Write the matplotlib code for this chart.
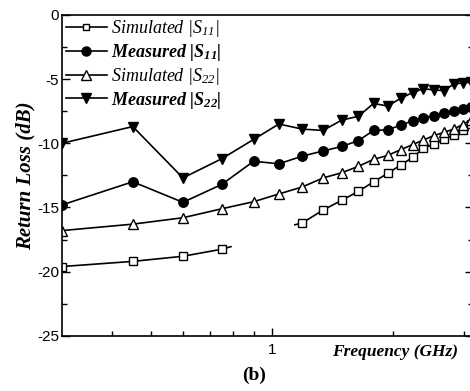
import matplotlib
matplotlib.use("Agg")
import matplotlib.pyplot as plt
import numpy as np
from matplotlib.ticker import FixedLocator, NullFormatter, FixedFormatter

plt.rcParams['mathtext.fontset'] = 'custom'
plt.rcParams['mathtext.rm'] = 'Liberation Serif:italic'
plt.rcParams['mathtext.it'] = 'Liberation Serif:italic'
plt.rcParams['mathtext.bf'] = 'Liberation Serif:bold:italic'

freq = [0.30, 0.45, 0.60, 0.75, 0.90, 1.04, 1.19, 1.34, 1.49, 1.64,
        1.79, 1.94, 2.09, 2.24, 2.38, 2.53, 2.68, 2.83, 2.98, 3.12]
meas_s22 = [-10.0, -8.7, -12.7, -11.2, -9.7, -8.5, -8.9, -9.0, -8.2, -7.9,
            -6.9, -7.1, -6.5, -6.05, -5.75, -5.85, -5.9, -5.4, -5.3, -5.25]
meas_s11 = [-14.8, -13.0, -14.6, -13.2, -11.4, -11.6, -11.0, -10.6, -10.25, -9.8,
            -9.0, -8.95, -8.6, -8.25, -8.0, -7.85, -7.65, -7.5, -7.35, -7.2]
sim_s22 = [-16.8, -16.3, -15.8, -15.1, -14.55, -13.95, -13.4, -12.7, -12.3, -11.8,
           -11.25, -10.95, -10.5, -10.1, -9.75, -9.4, -9.15, -8.9, -8.55, -8.2]
# simulated S11 is drawn in two pieces; stub ends are drawn without markers
sim_s11_freq_a = [0.30, 0.45, 0.60, 0.75, 0.79]
sim_s11_a = [-19.6, -19.2, -18.8, -18.25, -18.05]
sim_s11_freq_b = [1.14, 1.19, 1.34, 1.49, 1.64, 1.79, 1.94, 2.09, 2.24, 2.38,
                  2.53, 2.68, 2.83, 2.98, 3.12]
sim_s11_b = [-16.35, -16.2, -15.2, -14.45, -13.75, -13.0, -12.35, -11.7, -11.1, -10.4,
             -10.05, -9.7, -9.35, -8.95, -8.5]

fig = plt.figure(figsize=(4.70, 3.91), dpi=100)
ax = fig.add_axes([0.132, 0.141, 0.875, 0.821])

lw = 1.2
ax.plot(sim_s11_freq_a, sim_s11_a, '-', color='black', lw=lw, marker='s', ms=5.5,
        mfc='white', mec='black', mew=1.0, markevery=[0, 1, 2, 3])
ax.plot(sim_s11_freq_b, sim_s11_b, '-', color='black', lw=lw, marker='s', ms=5.5,
        mfc='white', mec='black', mew=1.0, markevery=list(range(1, len(sim_s11_b))))
ax.plot(freq, meas_s11, '-', color='black', lw=lw, marker='o', ms=6.8,
        mfc='black', mec='black')
ax.plot(freq, sim_s22, '-', color='black', lw=lw, marker='^', ms=7.2,
        mfc='white', mec='black', mew=1.0)
ax.plot(freq, meas_s22, '-', color='black', lw=lw, marker='v', ms=7.8,
        mfc='black', mec='black')

# legend handles
h1, = ax.plot([], [], '-', color='black', lw=lw, marker='s', ms=5, mfc='white', mec='black')
h2, = ax.plot([], [], '-', color='black', lw=lw, marker='o', ms=6.5, mfc='black', mec='black')
h3, = ax.plot([], [], '-', color='black', lw=lw, marker='^', ms=6.5, mfc='white', mec='black')
h4, = ax.plot([], [], '-', color='black', lw=lw, marker='v', ms=7, mfc='black', mec='black')
labels = [r'Simulated $|S_{11}|$', r'Measured $\mathbf{|S_{11}|}$',
          r'Simulated $|S_{22}|$', r'Measured $\mathbf{|S_{22}|}$']
leg = ax.legend([h1, h2, h3, h4], labels, loc='upper left', frameon=False,
                prop={'family': 'Liberation Serif', 'style': 'italic', 'size': 13},
                handlelength=2.3, handletextpad=0.2, labelspacing=0.15,
                borderaxespad=0.1, borderpad=0.1)
for i in (1, 3):
    leg.get_texts()[i].set_fontweight('bold')

ax.set_xscale('log')
ax.set_xlim(0.30, 3.17)
ax.set_ylim(-25, 0)

ax.xaxis.set_major_locator(FixedLocator([1]))
ax.xaxis.set_major_formatter(FixedFormatter(['1']))
ax.xaxis.set_minor_locator(FixedLocator([0.4, 0.5, 0.6, 0.7, 0.8, 0.9, 2, 3]))
ax.xaxis.set_minor_formatter(NullFormatter())
ax.set_yticks([0, -5, -10, -15, -20, -25])
ax.set_yticklabels(['0', '-5', '-10', '-15', '-20', '-25'])
ax.yaxis.set_minor_locator(FixedLocator(np.arange(-22.5, 0, 5)))

ax.tick_params(axis='both', which='both', direction='in', top=False, right=True,
               labelsize=11, width=1.0)
ax.tick_params(axis='both', which='major', length=6)
ax.tick_params(axis='both', which='minor', length=3.5)
for lab in ax.get_xticklabels() + ax.get_yticklabels():
    lab.set_family('Liberation Sans')
ax.tick_params(axis='y', pad=2)
ax.tick_params(axis='x', pad=5)
for sp in ax.spines.values():
    sp.set_linewidth(1.2)

ax.set_ylabel('Return Loss (dB)', family='Liberation Serif', style='italic',
              weight='bold', size=15, labelpad=1)
fig.text(0.84, 0.1, 'Frequency (GHz)', family='Liberation Serif', style='italic',
         weight='bold', size=12.5, ha='center', va='center')
fig.text(0.54, 0.04, '(b)', family='Liberation Serif', weight='bold', size=14,
         ha='center', va='center')

fig.savefig('out.png', dpi=100)
